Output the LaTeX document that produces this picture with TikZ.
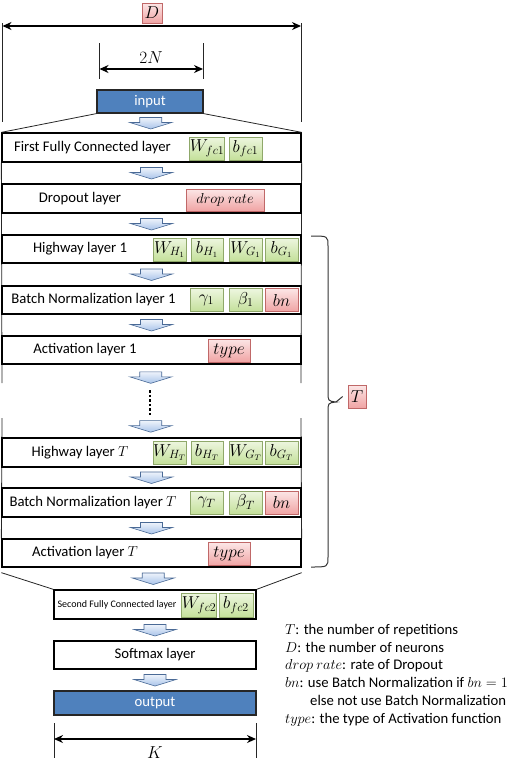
\documentclass[tikz,border=0pt]{standalone}
\usepackage{fontspec}
\setmainfont{Carlito}
\usetikzlibrary{calc,arrows.meta,backgrounds}
\definecolor{boxblue}{HTML}{4F81BD}
\definecolor{gtop}{HTML}{EDF6DF}
\definecolor{gbot}{HTML}{C4E09A}
\definecolor{gline}{HTML}{8FA86A}
\definecolor{ptop}{HTML}{FCE6E6}
\definecolor{pbot}{HTML}{F0A4A4}
\definecolor{pline}{HTML}{C06868}
\definecolor{atop}{HTML}{EEF3FB}
\definecolor{abot}{HTML}{A9C4EA}
\definecolor{aline}{HTML}{4A6A96}
\begin{document}
\begin{tikzpicture}[x=1pt,y=1pt,
  font=\fontsize{14.7}{17}\selectfont,
  layer/.style={draw=black, line width=1.3pt, fill=white, inner sep=0pt, minimum width=299pt},
  lbl/.style={inner sep=0pt},
  pbig/.style={font=\fontsize{16.5}{19}\selectfont},
  pgreen/.style={draw=gline, line width=0.7pt, top color=gtop, bottom color=gbot, inner sep=0pt, minimum height=23pt, pbig},
  ppink/.style={draw=pline, line width=0.7pt, top color=ptop, bottom color=pbot, inner sep=0pt, minimum height=23pt, pbig},
  bluebox/.style={draw=black!85, line width=1.2pt, fill=boxblue, text=white, inner sep=0pt},
  side/.style={line width=0.8pt, draw=black!85},
  tick/.style={line width=0.8pt, draw=black!85},
  dim/.style={line width=1.4pt, {Stealth[length=9pt,width=8pt]}-{Stealth[length=9pt,width=8pt]}},
  leg/.style={inner sep=0pt, anchor=base west},
  flowarrow/.pic={\path[draw=aline, line width=0.6pt, top color=atop, bottom color=abot]
     (-11,5.5) -- (11,5.5) -- (11,0.5) -- (21,0.5) -- (0,-6) -- (-21,0.5) -- (-11,0.5) -- cycle;}
]
\useasboundingbox (0,0) rectangle (520,-761);

% ---- top dimensions
\node[ppink, minimum width=20pt, minimum height=20pt] (Dbox) at (152,-13) {$D$};
\coordinate (dL) at (2.5,-26);
\coordinate (dR) at (301,-26);
\draw[tick] (2.5,-23) -- (2.5,-122);
\draw[tick] (301,-23) -- (301,-122);
\draw[dim] (dL) -- (dR);

\node[lbl, pbig] (twoN) at (151,-58) {$2N$};
\coordinate (nL) at (99.5,-69);
\coordinate (nR) at (203,-69);
\draw[tick] (99.5,-43) -- (99.5,-79);
\draw[tick] (203,-43) -- (203,-79);
\draw[dim] (nL) -- (nR);

% ---- boxes
\node[bluebox, minimum width=106pt, minimum height=23pt] (input) at (150,-101.5) {input};

\node[layer, minimum height=29pt] (fc1) at (151.5,-147.5) {};
\node[lbl] (fc1t) at (92.5,-148) {First Fully Connected layer};
\node[pgreen, minimum width=34pt] (Wfc1) at (207,-148.5) {$W_{fc1}$};
\node[pgreen, minimum width=33pt] (bfc1) at (245.5,-148.5) {$b_{fc1}$};

\node[layer, minimum height=29pt] (drop) at (151.5,-198.5) {};
\node[lbl] (dropt) at (80,-199) {Dropout layer};
\node[ppink, minimum width=78pt, minimum height=22pt, font=\fontsize{15.5}{18}\selectfont] (rate) at (225,-200) {$drop\ rate$};

\node[layer, minimum height=28pt] (hw1) at (151.5,-249) {};
\node[lbl] (hw1t) at (80,-249) {Highway layer 1};
\node[pgreen, minimum width=33pt] (WH1) at (169.5,-249.5) {$W_{H_1}$};
\node[pgreen, minimum width=32pt] (bH1) at (207,-249.5) {$b_{H_1}$};
\node[pgreen, minimum width=33pt] (WG1) at (245.5,-249.5) {$W_{G_1}$};
\node[pgreen, minimum width=33pt] (bG1) at (281.5,-249.5) {$b_{G_1}$};

\node[layer, minimum height=28pt] (bn1) at (151.5,-300) {};
\node[lbl] (bn1t) at (93.5,-300) {Batch Normalization layer 1};
\node[pgreen, minimum width=33pt] (g1) at (206.5,-300) {$\gamma_1$};
\node[pgreen, minimum width=33pt] (be1) at (245.5,-300) {$\beta_1$};
\node[ppink, minimum width=33pt] (bnp1) at (281.5,-300) {$bn$};

\node[layer, minimum height=28pt] (act1) at (151.5,-350) {};
\node[lbl] (act1t) at (85,-350) {Activation layer 1};
\node[ppink, minimum width=42pt] (ty1) at (229,-350.5) {$type$};

\coordinate (dtop) at (150,-390);
\coordinate (dbot) at (150,-415);
\draw[line width=2.6pt, dash pattern=on 2.6pt off 2pt] (dtop) -- (dbot);

\node[layer, minimum height=29pt] (hwT) at (151.5,-452.5) {};
\node[lbl] (hwTt) at (80,-452.5) {Highway layer $T$};
\node[pgreen, minimum width=33pt] (WHT) at (169.5,-452.5) {$W_{H_T}$};
\node[pgreen, minimum width=32pt] (bHT) at (207,-452.5) {$b_{H_T}$};
\node[pgreen, minimum width=33pt] (WGT) at (245.5,-452.5) {$W_{G_T}$};
\node[pgreen, minimum width=33pt] (bGT) at (281.5,-452.5) {$b_{G_T}$};

\node[layer, minimum height=29pt] (bnT) at (151.5,-502.5) {};
\node[lbl] (bnTt) at (93,-502.5) {Batch Normalization layer $T$};
\node[pgreen, minimum width=33pt] (gT) at (206.5,-502.5) {$\gamma_T$};
\node[pgreen, minimum width=33pt] (beT) at (245.5,-502.5) {$\beta_T$};
\node[ppink, minimum width=33pt] (bnpT) at (281.5,-502.5) {$bn$};

\node[layer, minimum height=28pt] (actT) at (151.5,-553) {};
\node[lbl] (actTt) at (85,-553) {Activation layer $T$};
\node[ppink, minimum width=42pt] (tyT) at (229,-554) {$type$};

\node[layer, minimum width=202pt, minimum height=29pt] (fc2) at (155,-604.5) {};
\node[lbl, font=\fontsize{10}{12}\selectfont] (fc2t) at (117,-605) {Second Fully Connected layer};
\node[pgreen, minimum width=34pt, minimum height=24pt] (Wfc2) at (199,-605) {$W_{fc2}$};
\node[pgreen, minimum width=34pt, minimum height=24pt] (bfc2) at (236,-605) {$b_{fc2}$};

\node[layer, minimum width=202pt, minimum height=28pt] (soft) at (155,-655) {Softmax layer};
\node[bluebox, minimum width=202pt, minimum height=24pt] (output) at (155,-703) {output};

% ---- side lines of the repeated stack
\begin{scope}[on background layer]
\draw[side] (fc1.south west) -- (2,-383);
\draw[side] (fc1.south east) -- (301,-383);
\draw[side] (2,-418) -- (actT.north west);
\draw[side] (301,-418) -- (actT.north east);
\end{scope}

% ---- funnels
\draw[side] (input.south west) -- (fc1.north west);
\draw[side] (input.south east) -- (fc1.north east);
\draw[side] ([yshift=-5pt]actT.south west) -- (fc2.north west);
\draw[side] ([yshift=-5pt]actT.south east) -- (fc2.north east);

% ---- flow arrows
\path (input.south) -- coordinate[midway] (a1) (fc1.north);
\path (fc1.south) -- coordinate[midway] (a2) (drop.north);
\path (drop.south) -- coordinate[midway] (a3) (hw1.north);
\path (hw1.south) -- coordinate[midway] (a4) (bn1.north);
\path (bn1.south) -- coordinate[midway] (a5) (act1.north);
\path (act1.south) -- coordinate[midway] (a6) (dtop);
\path (dbot) -- coordinate[midway] (a7) (hwT.north);
\path (hwT.south) -- coordinate[midway] (a8) (bnT.north);
\path (bnT.south) -- coordinate[midway] (a9) (actT.north);
\path (actT.south) -- coordinate[midway] (a10) (fc2.north);
\path (fc2.south) -- coordinate[midway] (a11) (soft.north);
\path (soft.south) -- coordinate[midway] (a12) (output.north);
\foreach \a in {a1,a2,a3,a4,a5,a6,a7,a8,a9,a10,a11,a12}
  \pic at (\a) {flowarrow};

% ---- brace and T
\node[ppink, minimum width=18pt, minimum height=23pt] (Tbox) at (357,-396.5) {$T$};
\coordinate (brTop) at (311,-236);
\coordinate (brBot) at (311,-567);
\coordinate (brTip) at (336,-402);
\draw[line width=1pt, draw=black!80] (brTop) .. controls (328,-236) .. (328,-246) -- (328,-392)
   .. controls (328,-401) .. (brTip) .. controls (328,-403) .. (328,-412) -- (328,-557)
   .. controls (328,-567) .. (brBot);
\draw[line width=1pt, draw=black!80] (brTip) -- ([xshift=-5pt]Tbox.west);

% ---- bottom dimension
\coordinate (kL) at (54,-739);
\coordinate (kR) at (256,-739);
\draw[tick] (54,-723) -- (54,-758);
\draw[tick] (256,-723) -- (256,-758);
\draw[dim] (kL) -- (kR);
\node[lbl, pbig] (Klab) at (155,-753) {$K$};

% ---- legend
\node[leg] (l1) at (285,-634) {$T$: the number of repetitions};
\node[leg] (l2) at (285,-652) {$D$: the number of neurons};
\node[leg] (l3) at (285,-669) {$drop\ rate$: rate of Dropout};
\node[leg] (l4) at (285,-687) {$bn$: use Batch Normalization if $bn=1$};
\node[leg] (l5) at (310,-705) {else not use Batch Normalization};
\node[leg] (l6) at (285,-723) {$type$: the type of Activation function};
\end{tikzpicture}
\end{document}
